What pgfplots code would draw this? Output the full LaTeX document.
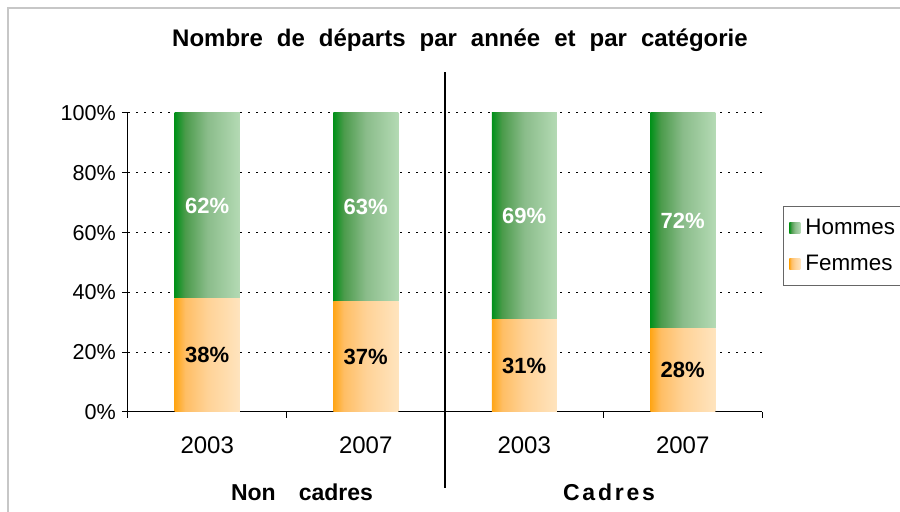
\documentclass[border=0pt]{standalone}
\usepackage{fontspec}
\setmainfont{Liberation Sans}
\newfontfamily\spaced[LetterSpace=12]{Liberation Sans}
\newfontfamily\titlefont[WordSpace=2.1]{Liberation Sans}
\usepackage{pgfplots}
\pgfplotsset{compat=1.18}
\definecolor{g0}{RGB}{0,145,25}
\definecolor{g1}{RGB}{75,155,75}
\definecolor{g2}{RGB}{138,188,138}
\definecolor{g3}{RGB}{180,218,180}
\definecolor{o0}{RGB}{255,165,20}
\definecolor{o1}{RGB}{255,190,100}
\definecolor{o2}{RGB}{255,210,150}
\definecolor{o3}{RGB}{255,228,190}
\pgfdeclarehorizontalshading{gshade}{100bp}{color(0bp)=(g0); color(25bp)=(g0); color(33bp)=(g1); color(50bp)=(g2); color(75bp)=(g3); color(100bp)=(g3)}
\pgfdeclarehorizontalshading{oshade}{100bp}{color(0bp)=(o0); color(25bp)=(o0); color(33bp)=(o1); color(50bp)=(o2); color(75bp)=(o3); color(100bp)=(o3)}
\pgfplotsset{
  base/.style={at={(103.625pt,50pt)}, anchor=origin, scale only axis,
    width=317pt, height=149.5pt,
    ybar stacked, bar width=32.5pt,
    xmin=-0.5, xmax=3.5, ymin=0, ymax=100, clip=false},
  fem/.style={draw=none, shade, shading=oshade},
  hom/.style={draw=none, shade, shading=gshade},
}
\begin{document}
\begin{tikzpicture}[x=1pt,y=1pt]
\fill[white] (0,0) rectangle (450,256);
\draw[black!22, line width=1pt] (4,0) -- (4,252) -- (450,252);
\node[font=\titlefont\bfseries\fontsize{12}{14}\selectfont] at (230,236) {Nombre de départs par année et par catégorie};
\node[font=\bfseries\fontsize{11.5}{13}\selectfont] at (151,10) {Non\hspace{1em}cadres};
\node[font=\spaced\bfseries\fontsize{11.5}{13}\selectfont] at (304.5,10) {Cadres};
% main axis: frame, grid, ticks, legend, first stack
\begin{axis}[base,
  axis lines*=left, axis line style={black, line width=0.5pt},
  tick align=outside, major tick length=3pt, tick style={black, line width=0.5pt},
  xtick={0,1,2,3}, xticklabels={2003,2007,2003,2007},
  xtick style={draw=none},
  extra x ticks={-0.5,0.5,1.5,2.5,3.5}, extra x tick labels={},
  extra x tick style={xtick style={draw=black}, grid=none},
  ytick={0,20,40,60,80,100}, yticklabels={0\%,20\%,40\%,60\%,80\%,100\%},
  ymajorgrids, grid style={black, line width=0.5pt, dash pattern=on 1pt off 3pt},
  xticklabel style={font=\fontsize{12}{14}\selectfont, yshift=-6pt},
  yticklabel style={font=\fontsize{10.8}{13}\selectfont, xshift=0.5pt},
  legend style={at={(1.033,0.688)}, anchor=north west, draw=black!60, line width=0.5pt,
    font=\fontsize{11.2}{13}\selectfont, row sep=5pt, inner xsep=3pt, inner ysep=4pt,
    nodes={inner xsep=2.5pt}},
  legend cell align=left, reverse legend,
  legend image code/.code={\path[#1] (0.5pt,-2.75pt) rectangle (6pt,2.75pt);},
]
\addplot[fem] coordinates {(0,38)};
\addlegendentry{Femmes}
\addplot[hom] coordinates {(0,62)};
\addlegendentry{Hommes}
\end{axis}
% other stacks, one per category
\begin{axis}[base, hide axis]
\addplot[fem] coordinates {(1,37)};
\addplot[hom] coordinates {(1,63)};
\end{axis}
\begin{axis}[base, hide axis]
\addplot[fem] coordinates {(2,31)};
\addplot[hom] coordinates {(2,69)};
\end{axis}
\begin{axis}[base, hide axis]
\addplot[fem] coordinates {(3,28)};
\addplot[hom] coordinates {(3,72)};
\end{axis}
% value labels and separator
\begin{axis}[base, hide axis]
\node[white, font=\bfseries\fontsize{11}{13}\selectfont] at (axis cs:0,69) {62\%};
\node[white, font=\bfseries\fontsize{11}{13}\selectfont] at (axis cs:1,68.5) {63\%};
\node[white, font=\bfseries\fontsize{11}{13}\selectfont] at (axis cs:2,65.5) {69\%};
\node[white, font=\bfseries\fontsize{11}{13}\selectfont] at (axis cs:3,64) {72\%};
\node[font=\bfseries\fontsize{11}{13}\selectfont] at (axis cs:0,19) {38\%};
\node[font=\bfseries\fontsize{11}{13}\selectfont] at (axis cs:1,18.5) {37\%};
\node[font=\bfseries\fontsize{11}{13}\selectfont] at (axis cs:2,15.5) {31\%};
\node[font=\bfseries\fontsize{11}{13}\selectfont] at (axis cs:3,14) {28\%};
\draw[line width=1pt] (axis cs:1.5,113.7) -- (axis cs:1.5,-25.4);
\end{axis}
\pgfresetboundingbox
\path[use as bounding box] (0,0) rectangle (450,256);
\end{tikzpicture}
\end{document}
